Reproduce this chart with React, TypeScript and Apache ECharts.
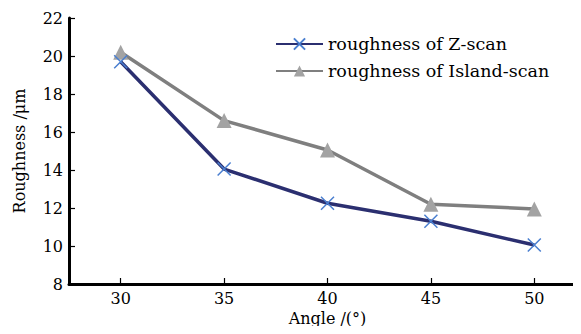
import React, { useEffect, useRef } from "react";
import * as echarts from "echarts";

const angles = [30, 35, 40, 45, 50];
const zScan = [19.7, 14.05, 12.25, 11.3, 10.05];
const islandScan = [20.2, 16.6, 15.05, 12.2, 11.95];
const seriesNames = ["roughness of Z-scan", "roughness of Island-scan"];

const FONT = "DejaVu Serif";
const X_PATH = "path://M0,0L10,10M10,0L0,10";

export default function App() {
  const ref = useRef<HTMLDivElement>(null);
  useEffect(() => {
    if (!ref.current) return;
    const chart = echarts.init(ref.current, null, { renderer: "svg" });
    chart.setOption({
      animation: false,
      grid: { left: 69, right: -5, top: 18, bottom: 50, outerBoundsMode: "none" },
      legend: {
        left: 270,
        top: 30,
        orient: "vertical",
        itemWidth: 47,
        itemHeight: 14,
        itemGap: 9,
        textStyle: { fontFamily: FONT, fontSize: 17.5, lineHeight: 17, color: "#000" },
        data: seriesNames,
      },
      xAxis: {
        type: "value",
        min: 27.5,
        max: 52.5,
        splitNumber: 5,
        name: "Angle /(°)",
        nameLocation: "middle",
        nameGap: 23,
        nameTextStyle: { fontFamily: FONT, fontSize: 16, color: "#000" },
        axisLine: { show: true, lineStyle: { color: "#000", width: 3 } },
        axisTick: { show: true, inside: true, length: 6, lineStyle: { color: "#000", width: 1.2 } },
        axisLabel: {
          fontFamily: FONT,
          fontSize: 16,
          color: "#000",
          margin: 6,
          formatter: (v: number) => (v % 5 === 0 ? String(v) : ""),
        },
        splitLine: { show: false },
      },
      yAxis: {
        type: "value",
        min: 8,
        max: 22,
        interval: 2,
        name: "Roughness /μm",
        nameLocation: "middle",
        nameGap: 42,
        nameTextStyle: { fontFamily: FONT, fontSize: 16, color: "#000" },
        axisLine: { show: true, lineStyle: { color: "#000", width: 3 } },
        axisTick: { show: true, inside: true, length: 6, lineStyle: { color: "#000", width: 1.2 } },
        axisLabel: { fontFamily: FONT, fontSize: 16, color: "#000", margin: 6 },
        splitLine: { show: false },
      },
      series: [
        {
          name: seriesNames[0],
          type: "line",
          data: angles.map((a, i) => [a, zScan[i]]),
          symbol: X_PATH,
          symbolSize: 13,
          lineStyle: { color: "#2b2f70", width: 3.5 },
          itemStyle: { color: "#4a7fd0", borderColor: "#4a7fd0", borderWidth: 1.5 },
          z: 3,
        },
        {
          name: seriesNames[1],
          type: "line",
          data: angles.map((a, i) => [a, islandScan[i]]),
          symbol: "triangle",
          symbolSize: 15,
          lineStyle: { color: "#7f7f7f", width: 3.5 },
          itemStyle: { color: "#a3a3a3" },
          z: 2,
        },
      ],
    });
    return () => chart.dispose();
  }, []);
  return <div ref={ref} style={{ width: 581, height: 334, margin: -8 }} />;
}
